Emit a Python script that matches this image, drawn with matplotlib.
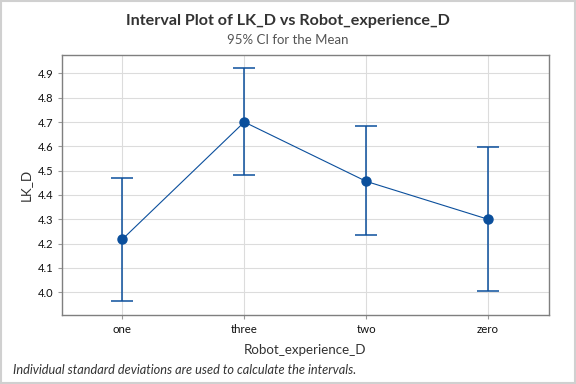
import matplotlib
matplotlib.use("Agg")
import matplotlib.pyplot as plt
from matplotlib.patches import Rectangle

# data
groups = ["one", "three", "two", "zero"]
means = [4.218, 4.700, 4.456, 4.300]
upper = [4.469, 4.921, 4.682, 4.596]
lower = [3.964, 4.481, 4.234, 4.004]
yticks = [4.0, 4.1, 4.2, 4.3, 4.4, 4.5, 4.6, 4.7, 4.8, 4.9]

blue = "#0B4F9C"
plt.rcParams["font.family"] = ["Lato", "DejaVu Sans"]

fig = plt.figure(figsize=(5.76, 3.84), dpi=100)
ax = fig.add_axes([61.5 / 576, 1 - 315.3 / 384, (549 - 61.5) / 576, (315.3 - 54.7) / 384])

x = list(range(len(groups)))
err_lo = [m - l for m, l in zip(means, lower)]
err_hi = [u - m for m, u in zip(means, upper)]
ax.plot(x, means, color=blue, lw=0.8, zorder=3)
ax.errorbar(x, means, yerr=[err_lo, err_hi], fmt="none", ecolor=blue,
            elinewidth=1.1, capsize=8, capthick=1.1, zorder=3)
ax.plot(x, means, "o", color=blue, ms=6.5, zorder=4)

ax.set_xlim(-0.5, 3.5)
ax.set_ylim(3.905, 4.977)
ax.set_xticks(x)
ax.set_xticklabels(groups, fontsize=8.3)
ax.set_yticks(yticks)
ax.set_yticklabels([f"{v:.1f}" for v in yticks], fontsize=8)
ax.grid(True, color="#DCDCDC", lw=0.8)
ax.set_axisbelow(True)
for s in ax.spines.values():
    s.set_color("#7F7F7F")
    s.set_linewidth(1.0)
ax.tick_params(length=3, color="#9A9A9A", labelcolor="#111111", pad=3)

ax.set_xlabel("Robot_experience_D", fontsize=9.6, color="#333333", labelpad=7)
ax.set_ylabel("LK_D", fontsize=9.6, color="#333333", labelpad=4)

fig.text(0.5, 1 - 21 / 384, "Interval Plot of LK_D vs Robot_experience_D", ha="center",
         va="center", fontsize=11.6, fontweight="bold", color="#333333")
fig.text(0.5, 1 - 40 / 384, "95% CI for the Mean", ha="center", va="center",
         fontsize=9.5, color="#555555")
fig.text(13 / 576, 1 - 370 / 384, "Individual standard deviations are used to calculate the intervals.",
         ha="left", va="center", fontsize=9.2, style="italic", color="#333333")

fig.patches.append(Rectangle((0.001, 0.002), 0.997, 0.996, transform=fig.transFigure,
                             fill=False, edgecolor="#D0D0D0", lw=1.5))

fig.savefig("out.png", dpi=100)
